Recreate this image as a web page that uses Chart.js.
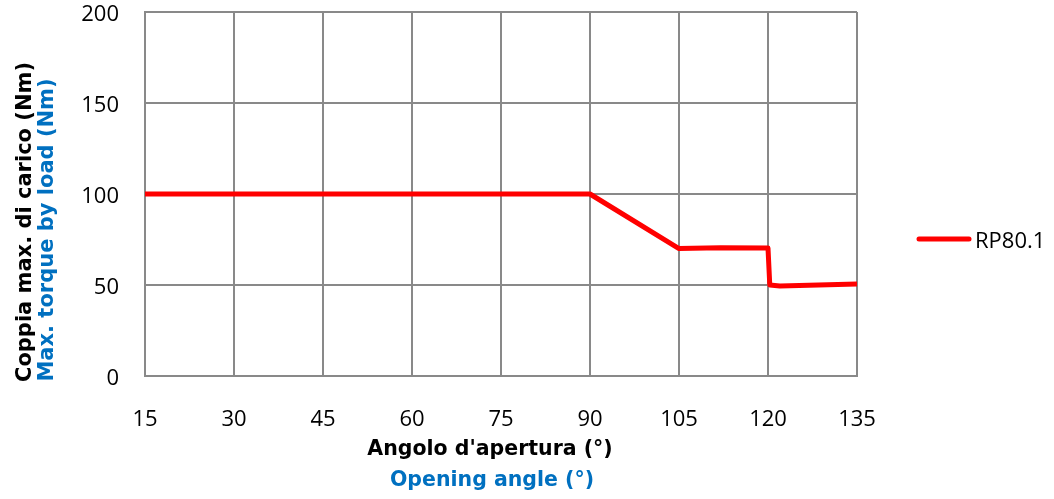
<!DOCTYPE html>
<html>
<head>
<meta charset="utf-8">
<script src="https://cdn.jsdelivr.net/npm/chart.js@4.4.0/dist/chart.umd.min.js"></script>
<style>
  html, body { margin: 0; padding: 0; background: #fff; }
  #wrap { width: 1054px; height: 499px; position: relative; }
</style>
</head>
<body>
<div id="wrap"><canvas id="torqueChart"></canvas></div>
<script>
// values
const angles = [15, 90, 105, 112, 120, 120.3, 122, 135];
const torque = [100, 100, 70, 70.5, 70.3, 50, 49.5, 50.5];
const seriesName = "RP80.1";
const xTicks = [15, 30, 45, 60, 75, 90, 105, 120, 135];
const yTicks = [0, 50, 100, 150, 200];
const yTitle = ["Coppia max. di carico (Nm)", "Max. torque by load (Nm)"];
const xTitle = ["Angolo d'apertura (°)", "Opening angle (°)"];

const black = "#000000";
const blue = "#0070C0";
const gridColor = "#898989";

// draws the two-colour axis titles and the legend on the right
const extras = {
  id: "extras",
  afterDraw(chart) {
    const ctx = chart.ctx;
    ctx.save();
    ctx.textBaseline = "middle";
    ctx.textAlign = "center";

    // x title under the plot
    ctx.font = "bold 20.5px 'DejaVu Sans'";
    ctx.fillStyle = black;
    ctx.fillText(xTitle[0], 490, 450);
    ctx.fillStyle = blue;
    ctx.fillText(xTitle[1], 492, 481);

    // y title, rotated
    ctx.save();
    ctx.rotate(-Math.PI / 2);
    ctx.font = "bold 21px 'DejaVu Sans'";
    ctx.fillStyle = black;
    ctx.fillText(yTitle[0], -222, 26);
    ctx.fillStyle = blue;
    ctx.fillText(yTitle[1], -230, 48);
    ctx.restore();

    // legend
    const ds = chart.data.datasets[0];
    ctx.strokeStyle = ds.borderColor;
    ctx.lineWidth = 5;
    ctx.lineCap = "round";
    ctx.beginPath();
    ctx.moveTo(919, 239);
    ctx.lineTo(969, 239);
    ctx.stroke();
    ctx.font = "22px 'Open Sans'";
    ctx.textAlign = "left";
    ctx.fillStyle = black;
    ctx.fillText(ds.label, 975, 242);
    ctx.restore();
  }
};

new Chart(document.getElementById("torqueChart"), {
  type: "line",
  data: {
    datasets: [{
      label: seriesName,
      data: angles.map((a, i) => ({ x: a, y: torque[i] })),
      borderColor: "#FF0000",
      backgroundColor: "#FF0000",
      borderWidth: 5,
      pointRadius: 0,
      tension: 0,
      borderJoinStyle: "round"
    }]
  },
  options: {
    responsive: true,
    maintainAspectRatio: false,
    animation: false,
    layout: { padding: { top: 12, right: 197, left: 0, bottom: 0 } },
    plugins: { legend: { display: false }, tooltip: { enabled: false } },
    scales: {
      x: {
        type: "linear",
        min: 15,
        max: 135,
        afterBuildTicks: (s) => { s.ticks = xTicks.map(v => ({ value: v })); },
        afterFit: (s) => { s.height = 123; s.paddingLeft = 0; s.paddingRight = 0; },
        grid: { color: gridColor, lineWidth: 2, drawTicks: false },
        border: { color: gridColor, width: 2 },
        ticks: { color: black, padding: 31, font: { family: "Open Sans", size: 22 } }
      },
      y: {
        min: 0,
        max: 200,
        afterBuildTicks: (s) => { s.ticks = yTicks.map(v => ({ value: v })); },
        afterFit: (s) => { s.width = 145; s.paddingTop = 0; s.paddingBottom = 0; },
        grid: { color: gridColor, lineWidth: 2, drawTicks: false },
        border: { color: gridColor, width: 2 },
        ticks: { color: black, padding: 26, labelOffset: 3, font: { family: "Open Sans", size: 22 } }
      }
    }
  },
  plugins: [extras]
});
</script>
</body>
</html>
